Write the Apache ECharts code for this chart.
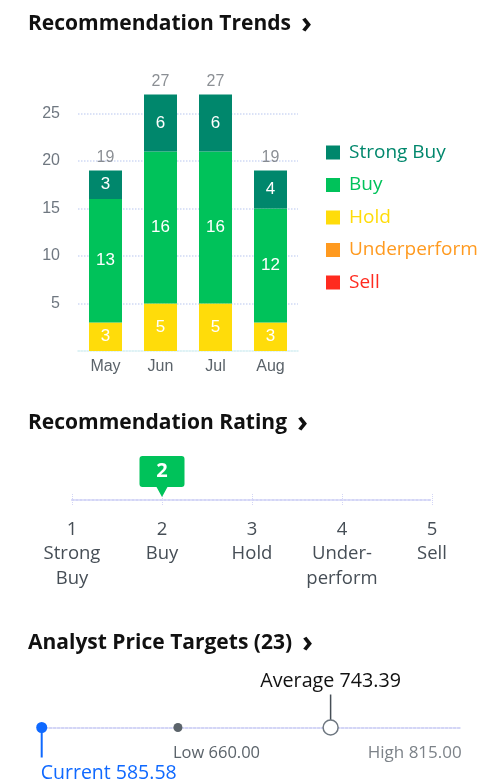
<!DOCTYPE html>
<html>
<head>
<meta charset="utf-8">
<script src="https://cdn.jsdelivr.net/npm/echarts@6/dist/echarts.min.js"></script>
<style>
html,body{margin:0;padding:0;background:#fff;}
#c{width:496px;height:784px;}
</style>
</head>
<body>
<div id="c"></div>
<script>
// ---- Recommendation Trends data ----
var months = ['May', 'Jun', 'Jul', 'Aug'];
var strongBuy = [3, 6, 6, 4];
var buy = [13, 16, 16, 12];
var hold = [3, 5, 5, 3];
var underperform = [0, 0, 0, 0];
var sell = [0, 0, 0, 0];
var yTicks = [5, 10, 15, 20, 25];

// ---- Recommendation Rating data ----
var ratingValues = [1, 2, 3, 4, 5];
var ratingNames = ['Strong\nBuy', 'Buy', 'Hold', 'Under-\nperform', 'Sell'];
var currentRating = 2;

// ---- Analyst Price Targets data ----
var analystCount = 23;
var priceCurrent = 585.58;
var priceLow = 660.00;
var priceAverage = 743.39;
var priceHigh = 815.00;

var C = {
  strongBuy: '#00876c', buy: '#00c25a', hold: '#ffdc0a',
  under: '#ff9a1f', sell: '#ff2b1f'
};

var totals = months.map(function (m, i) {
  return strongBuy[i] + buy[i] + hold[i] + underperform[i] + sell[i];
});

var sans = 'Liberation Sans, Arial, sans-serif';
var open = 'Open Sans, sans-serif';

function barSeries(name, data, color) {
  return {
    name: name, type: 'bar', stack: 'rec', data: data, barWidth: 33,
    xAxisIndex: 0, yAxisIndex: 0,
    itemStyle: { color: color },
    label: {
      show: true, position: 'inside', color: '#fff', fontSize: 17, fontFamily: sans,
      formatter: function (p) { return p.value ? String(p.value) : ''; }
    }
  };
}

function titleRich(text, top) {
  return {
    left: 28, top: top, padding: 0,
    text: '{t|' + text + '}  {a|›}',
    textStyle: {
      rich: {
        t: { fontSize: 21, fontWeight: 'bold', fontFamily: open, color: '#111' },
        a: { fontSize: 30, fontWeight: 'bold', fontFamily: open, color: '#111' }
      }
    }
  };
}

var fmt = function (v) { return v.toFixed(2); };

var chart = echarts.init(document.getElementById('c'));
chart.setOption({
  animation: false,
  title: [
    titleRich('Recommendation Trends', 9),
    titleRich('Recommendation Rating', 408),
    titleRich('Analyst Price Targets (' + analystCount + ')', 628)
  ],
  legend: {
    orient: 'vertical', left: 326, top: 143, padding: 0,
    itemWidth: 14, itemHeight: 14, itemGap: 13.5, icon: 'rect',
    textStyle: { fontSize: 19, fontFamily: open, padding: [0, 0, 0, 4] },
    data: [
      { name: 'Strong Buy', textStyle: { color: C.strongBuy } },
      { name: 'Buy', textStyle: { color: C.buy } },
      { name: 'Hold', textStyle: { color: C.hold } },
      { name: 'Underperform', textStyle: { color: C.under } },
      { name: 'Sell', textStyle: { color: C.sell } }
    ]
  },
  grid: [
    { left: 78, width: 220, top: 66, height: 285 },
    { left: 72, width: 360, top: 494, height: 12 },
    { left: 41.7, width: 420, top: 700, height: 55 }
  ],
  xAxis: [
    {
      gridIndex: 0, type: 'category', data: months,
      axisLine: { show: true, lineStyle: { color: '#d4eef2', type: 'dotted', width: 1.5 } },
      axisTick: { show: false },
      axisLabel: { color: '#5b636a', fontSize: 16, fontFamily: sans, margin: 8 }
    },
    {
      gridIndex: 1, type: 'value', min: 1, max: 5, interval: 1,
      axisLine: { show: true, onZero: true, lineStyle: { color: '#d3d5f6', type: 'dotted', width: 2 } },
      axisTick: { show: false },
      splitLine: { show: true, lineStyle: { color: '#d3d5f6', type: 'dotted', width: 1 } },
      axisLabel: {
        color: '#464e56', fontSize: 18.5, fontFamily: open, lineHeight: 24.5, margin: 11,
        formatter: function (v) {
          var i = ratingValues.indexOf(v);
          return i < 0 ? '' : ratingValues[i] + '\n' + ratingNames[i];
        }
      }
    },
    {
      gridIndex: 2, type: 'value', min: priceCurrent, max: priceHigh,
      axisLine: { show: true, onZero: true, lineStyle: { color: '#d3d5f6', type: 'dotted', width: 2 } },
      axisTick: { show: false }, axisLabel: { show: false }, splitLine: { show: false }
    }
  ],
  yAxis: [
    {
      gridIndex: 0, type: 'value', min: 0, max: 30, interval: 5,
      axisLine: { show: false }, axisTick: { show: false },
      axisLabel: {
        color: '#6f7780', fontSize: 16, fontFamily: sans, margin: 18,
        showMinLabel: false, showMaxLabel: false,
        formatter: function (v) { return yTicks.indexOf(v) >= 0 ? String(v) : ''; }
      },
      splitLine: { show: true, showMinLine: false, showMaxLine: false,
        lineStyle: { color: '#cfd9f5', type: 'dotted', width: 1.5 } }
    },
    { gridIndex: 1, type: 'value', min: -1, max: 1, show: false },
    { gridIndex: 2, type: 'value', min: -1, max: 1, show: false }
  ],
  series: [
    barSeries('Sell', sell, C.sell),
    barSeries('Underperform', underperform, C.under),
    barSeries('Hold', hold, C.hold),
    barSeries('Buy', buy, C.buy),
    barSeries('Strong Buy', strongBuy, C.strongBuy),
    {
      name: 'total', type: 'scatter', xAxisIndex: 0, yAxisIndex: 0, data: totals,
      symbolSize: 0, silent: true,
      label: { show: true, position: 'top', distance: 5, color: '#6e7379', fontSize: 16, fontFamily: sans,
        formatter: function (p) { return String(p.value); } }
    },
    {
      name: 'rating', type: 'scatter', xAxisIndex: 1, yAxisIndex: 1,
      data: [[currentRating, 0]], silent: true,
      symbol: 'path://M3,0 H42 Q45,0 45,3 V28 Q45,31 42,31 H28 L22.5,41 L17,31 H3 Q0,31 0,28 V3 Q0,0 3,0 Z',
      symbolSize: [45, 41], symbolOffset: [0, -23.5], symbolKeepAspect: false,
      itemStyle: { color: '#00c25a', opacity: 1 },
      label: { show: true, position: 'inside', offset: [0, -5], color: '#fff', fontSize: 20,
        fontWeight: 'bold', fontFamily: open,
        formatter: function (p) { return String(p.value[0]); } }
    },
    {
      name: 'curStem', type: 'scatter', xAxisIndex: 2, yAxisIndex: 2, silent: true,
      data: [[priceCurrent, 0]], symbol: 'rect', symbolSize: [2, 30], symbolOffset: [0, 15],
      itemStyle: { color: '#0f69ff', opacity: 1 },
      label: { show: true, position: 'bottom', align: 'left', distance: 6, offset: [-1, 0],
        color: '#0f69ff', fontSize: 19.5, fontFamily: open,
        formatter: function () { return 'Current ' + fmt(priceCurrent); } }
    },
    {
      name: 'curDot', type: 'scatter', xAxisIndex: 2, yAxisIndex: 2, silent: true,
      data: [[priceCurrent, 0]], symbolSize: 11, itemStyle: { color: '#0f69ff', opacity: 1 }
    },
    {
      name: 'low', type: 'scatter', xAxisIndex: 2, yAxisIndex: 2, silent: true,
      data: [[priceLow, 0]], symbolSize: 9, itemStyle: { color: '#5b636a', opacity: 1 },
      label: { show: true, position: 'bottom', align: 'left', distance: 13, offset: [-5, 0],
        color: '#5b636a', fontSize: 16.5, fontFamily: open,
        formatter: function () { return 'Low ' + fmt(priceLow); } }
    },
    {
      name: 'avgStem', type: 'scatter', xAxisIndex: 2, yAxisIndex: 2, silent: true,
      data: [[priceAverage, 0]], symbol: 'rect', symbolSize: [1.5, 26], symbolOffset: [0, -20],
      itemStyle: { color: '#464e56', opacity: 1 },
      label: { show: true, position: 'top', distance: 3, color: '#111', fontSize: 19.7, fontFamily: open,
        formatter: function () { return 'Average ' + fmt(priceAverage); } }
    },
    {
      name: 'avgDot', type: 'scatter', xAxisIndex: 2, yAxisIndex: 2, silent: true,
      data: [[priceAverage, 0]], symbolSize: 15,
      itemStyle: { color: '#fff', borderColor: '#6e7780', borderWidth: 1.5, opacity: 1 }
    },
    {
      name: 'high', type: 'scatter', xAxisIndex: 2, yAxisIndex: 2, silent: true,
      data: [[priceHigh, 0]], symbolSize: 0,
      label: { show: true, position: 'bottom', align: 'right', distance: 17,
        color: '#5b636a', fontSize: 17, fontFamily: open,
        formatter: function () { return 'High ' + fmt(priceHigh); } }
    }
  ]
});
</script>
</body>
</html>
